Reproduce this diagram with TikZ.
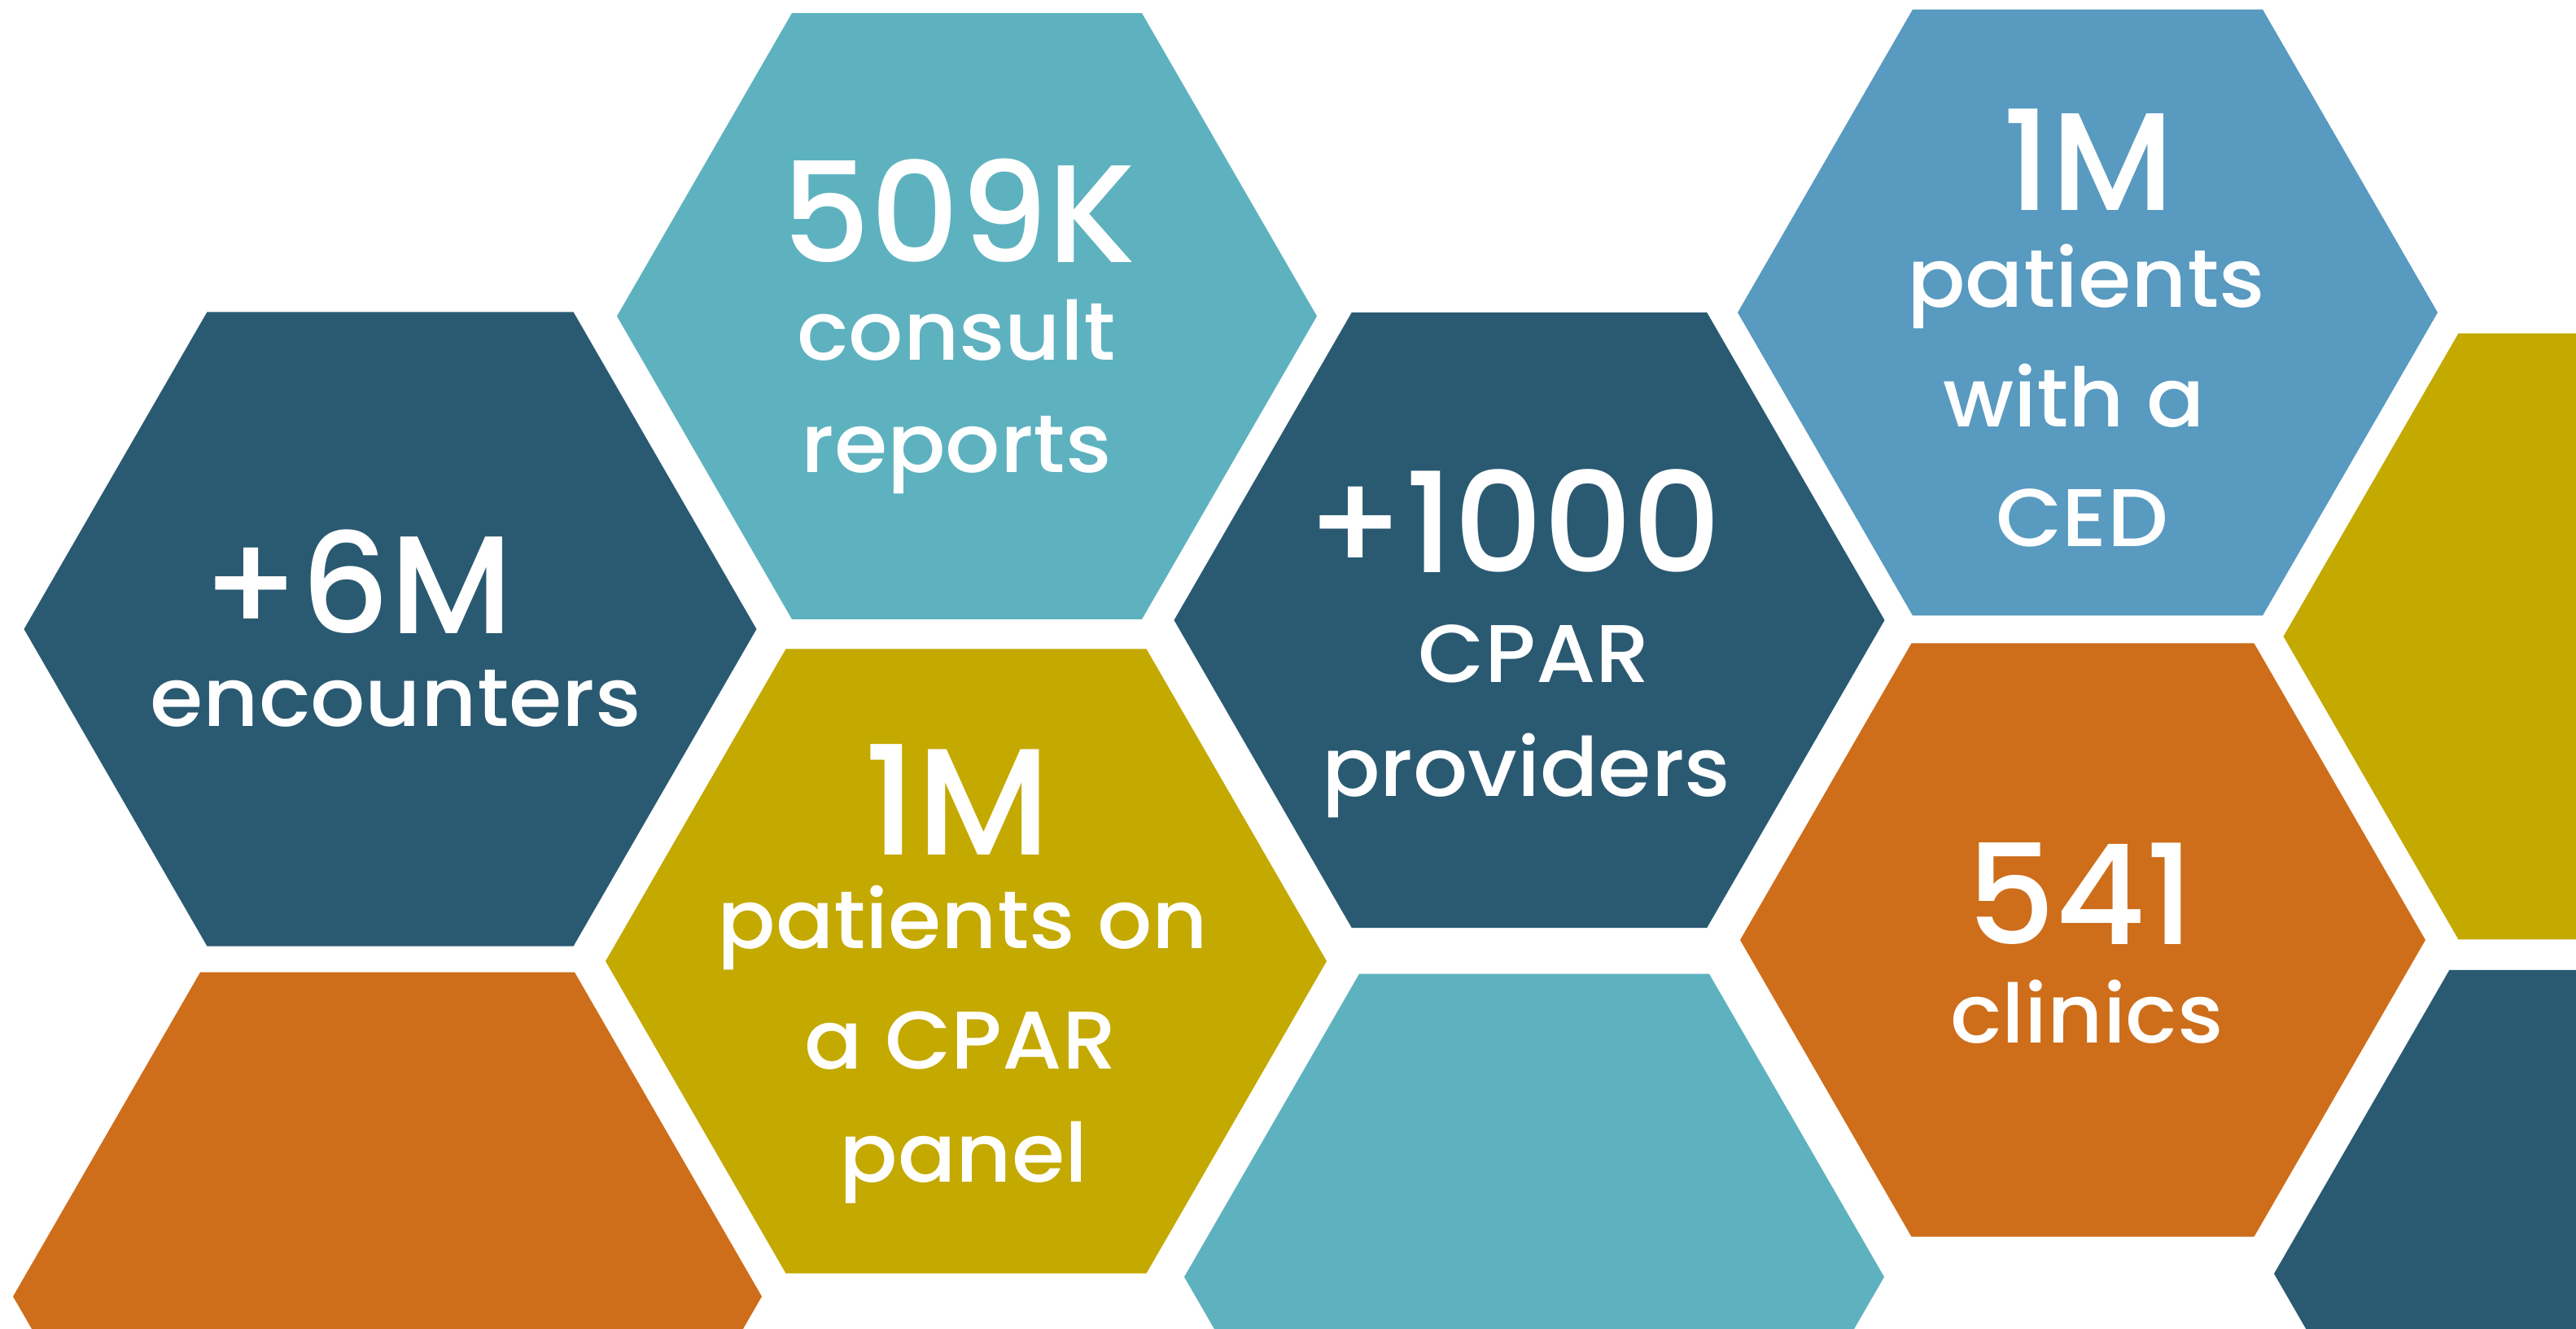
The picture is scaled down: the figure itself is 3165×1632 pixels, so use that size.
\documentclass[tikz,border=0pt]{standalone}
\usepackage{fontspec}
\setmainfont{Poppins}[UprightFont=* Medium]
\newfontfamily\widefont{Poppins}[UprightFont=* Medium,FakeStretch=1.05]
\definecolor{hdark}{HTML}{2A5A72}
\definecolor{hteal}{HTML}{5EB2BF}
\definecolor{hyellow}{HTML}{C4A900}
\definecolor{horange}{HTML}{CE6E1B}
\definecolor{hblue}{HTML}{589AC0}
\newcommand\hexfill[3]{\fill[#3] (#1) +(0:#2) -- +(60:#2) -- +(120:#2) -- +(180:#2) -- +(240:#2) -- +(300:#2) -- cycle;}
\begin{document}
\begin{tikzpicture}[x=0.01cm,y=-0.01cm,
  big/.style={text=white,anchor=base,inner sep=0pt,font=\fontsize{48.6}{58}\selectfont},
  bigger/.style={text=white,anchor=base,inner sep=0pt,font=\fontsize{53}{62}\selectfont},
  small/.style={text=white,anchor=base,inner sep=0pt,font=\widefont\fontsize{28.6}{34}\selectfont}]
\fill[white] (0,0) rectangle (3165,1632);
\clip (0,0) rectangle (3165,1632);
% hexagon centres
\coordinate (hA) at (479.5,773);
\coordinate (hB) at (1188,388.5);
\coordinate (hC) at (1187,1181);
\coordinate (hD) at (476,1593);
\coordinate (hE) at (1879,762);
\coordinate (hF) at (1885,1569);
\coordinate (hG) at (2565,384);
\coordinate (hH) at (2559,1155);
\coordinate (hI) at (3235.5,782);
\coordinate (hJ) at (3225,1565);
\hexfill{hA}{450}{hdark}
\hexfill{hB}{430}{hteal}
\hexfill{hC}{443}{hyellow}
\hexfill{hD}{460}{horange}
\hexfill{hE}{436.5}{hdark}
\hexfill{hF}{430}{hteal}
\hexfill{hG}{430}{hblue}
\hexfill{hH}{421}{horange}
\hexfill{hI}{430}{hyellow}
\hexfill{hJ}{431}{hdark}
% texts
\node[big]   (a1) at (439,778)  {+6M};
\node[small] (a2) at (486,892)  {encounters};
\node[big]   (b1) at (1178,322) {509K};
\node[small] (b2) at (1175,442) {consult};
\node[small] (b3) at (1175,580) {reports};
\node[bigger] (c1) at (1176,1050) {1M};
\node[small] (c2) at (1183,1165) {patients on};
\node[small] (c3) at (1180,1313) {a CPAR};
\node[small] (c4) at (1184,1452) {panel};
\node[big]   (e1) at (1860,703) {+1000};
\node[small] (e2) at (1885,838) {CPAR};
\node[small] (e3) at (1875,978) {providers};
\node[big]   (g1) at (2566,258) {1M};
\node[small] (g2) at (2563,377) {patients};
\node[small] (g3) at (2548,524) {with a};
\node[small] (g4) at (2558,671) {CED};
\node[big]   (h1) at (2556,1160) {541};
\node[small] (h2) at (2564,1281) {clinics};
\end{tikzpicture}
\end{document}
